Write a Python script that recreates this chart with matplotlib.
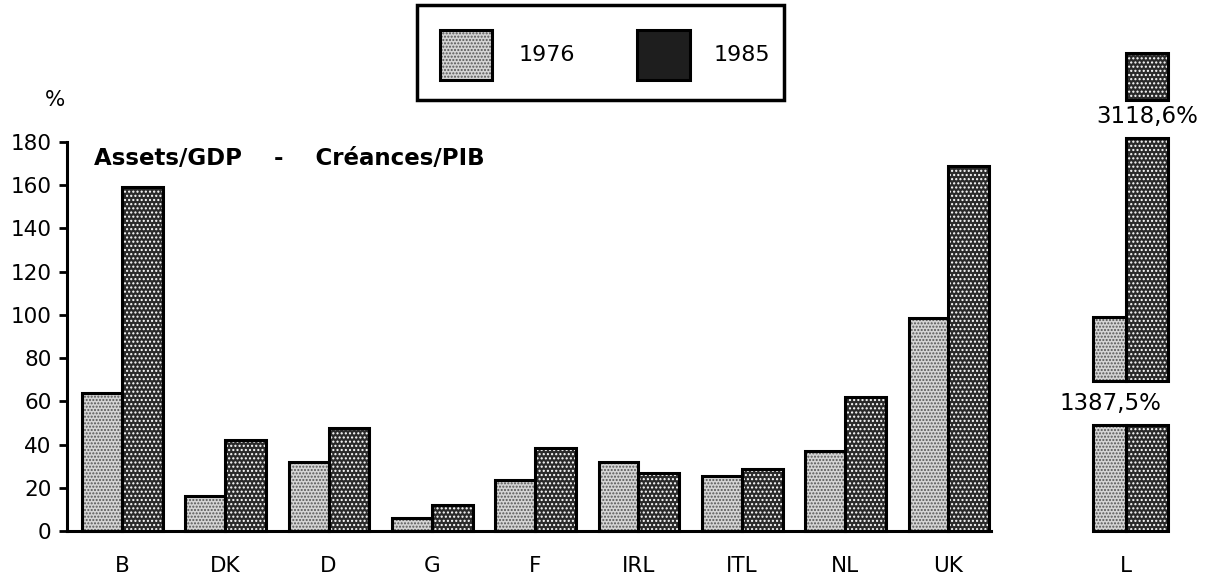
import matplotlib
matplotlib.use("Agg")
import matplotlib.pyplot as plt
from matplotlib.patches import Rectangle
import numpy as np

# ---- data ----
countries = ['B', 'DK', 'D', 'G', 'F', 'IRL', 'ITL', 'NL', 'UK']
v1976 = [64, 16, 32, 6, 23.5, 32, 25.5, 37, 98.5]
v1985 = [159, 42, 47.5, 12, 38.5, 27, 28.5, 62, 169]
lux_label = 'L'
lux_1976 = 1387.5
lux_1985 = 3118.6
series_labels = ['1976', '1985']
yticks = [0, 20, 40, 60, 80, 100, 120, 140, 160, 180]

# broken-bar drawing segments for Luxembourg (display scale)
lux_seg_1976 = [(0, 49), (69.3, 99.2)]
lux_seg_1985 = [(0, 49), (69.3, 181.8), (199.5, 221)]

W, H = 1229, 586
fig = plt.figure(figsize=(W / 100, H / 100), dpi=100)
fig.patch.set_facecolor('white')
ax = fig.add_axes([67 / W, 55 / H, (W - 67) / W, 389 / H])

x = np.arange(len(countries))
xl = 9.72
bw = 0.385

light_kw = dict(facecolor='#d4d4d4', hatch='.....', edgecolor='#555555', linewidth=0)
dark_kw = dict(facecolor='#2a2a2a', hatch='....', edgecolor='white', linewidth=0)
out_kw = dict(facecolor='none', edgecolor='black', linewidth=2.2)

def draw(xs, heights, bottoms, width, kw, align_left):
    off = -width if align_left else 0
    ax.bar(np.asarray(xs) + off, heights, width=width, bottom=bottoms, align='edge',
           clip_on=False, **kw)
    ax.bar(np.asarray(xs) + off, heights, width=width, bottom=bottoms, align='edge',
           clip_on=False, **out_kw)

draw(x, v1976, 0, bw, light_kw, True)
draw(x, v1985, 0, bw + 0.01, dark_kw, False)

# Luxembourg broken bars
for lo, hi in lux_seg_1976:
    draw([xl], [hi - lo], [lo], 0.32, light_kw, True)
for lo, hi in lux_seg_1985:
    draw([xl], [hi - lo], [lo], 0.41, dark_kw, False)

fs = 15.5
ax.text(9.57, 59, f"{lux_1976:.1f}%".replace('.', ','), ha='center', va='center',
        fontsize=16.5, family='DejaVu Sans', clip_on=False)
ax.text(9.92, 192, f"{lux_1985:.1f}%".replace('.', ','), ha='center', va='center',
        fontsize=16.5, family='DejaVu Sans', clip_on=False)

ax.set_xlim(-0.532, 10.716)
ax.set_ylim(0, 180)
ax.set_yticks(yticks)
ax.set_yticklabels([str(t) for t in yticks], fontsize=fs, family='DejaVu Sans')
ax.set_xticks(list(x) + [xl])
ax.set_xticklabels(countries + [lux_label], fontsize=fs, family='DejaVu Sans')
ax.tick_params(axis='x', length=0, pad=18)
ax.tick_params(axis='y', direction='out', length=6, width=2, pad=5)
for s in ['top', 'right']:
    ax.spines[s].set_visible(False)
ax.spines['left'].set_linewidth(2.2)
ax.spines['bottom'].set_linewidth(2.2)
ax.spines['bottom'].set_bounds(-0.532, 8.41)
ax.patch.set_alpha(0)

ax.text(-0.27, 172.5, 'Assets/GDP    -    Créances/PIB', fontsize=16.5, fontweight='bold',
        family='DejaVu Sans', ha='left', va='center')

fig.text(55 / W, 1 - 100 / H, '%', fontsize=fs, family='DejaVu Sans', ha='center', va='center')

# legend box
fig.add_artist(Rectangle((417 / W, 1 - 100 / H), 367 / W, 95 / H, transform=fig.transFigure,
                         facecolor='white', edgecolor='black', linewidth=2.5))
fig.add_artist(Rectangle((440 / W, 1 - 80 / H), 52 / W, 50 / H, transform=fig.transFigure,
                         **light_kw))
fig.add_artist(Rectangle((440 / W, 1 - 80 / H), 52 / W, 50 / H, transform=fig.transFigure,
                         facecolor='none', edgecolor='black', linewidth=2.2))
fig.add_artist(Rectangle((637 / W, 1 - 80 / H), 53 / W, 50 / H, transform=fig.transFigure,
                         facecolor='#1e1e1e', edgecolor='black', linewidth=2.2))
fig.text(519 / W, 1 - 55 / H, series_labels[0], fontsize=16, family='DejaVu Sans',
         ha='left', va='center')
fig.text(714 / W, 1 - 55 / H, series_labels[1], fontsize=16, family='DejaVu Sans',
         ha='left', va='center')

fig.savefig('out.png', dpi=100, facecolor='white')
